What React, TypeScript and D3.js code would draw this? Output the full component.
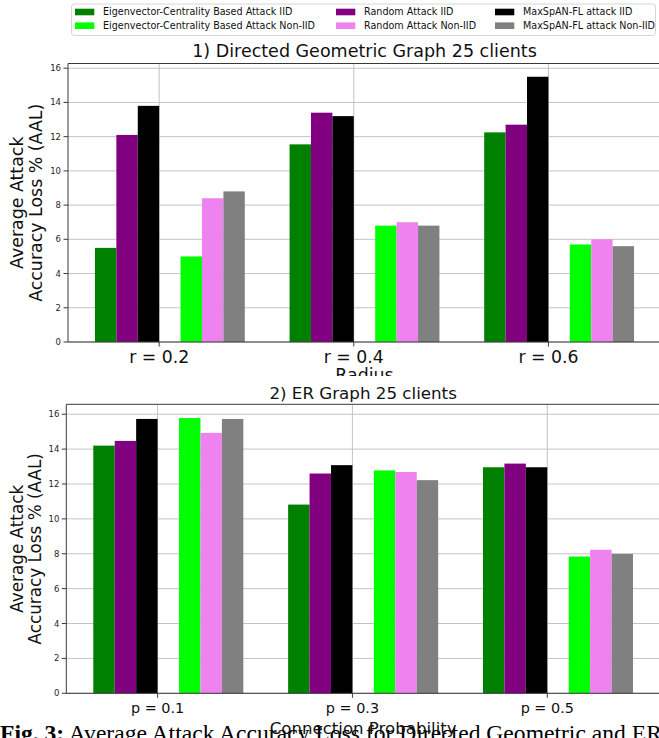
import { useEffect, useRef } from 'react';
import * as d3 from 'd3';

// legend order (column-major, like matplotlib's ncol=3)
const SERIES = [
  'Eigenvector-Centrality Based Attack IID',
  'Eigenvector-Centrality Based Attack Non-IID',
  'Random Attack IID',
  'Random Attack Non-IID',
  'MaxSpAN-FL attack IID',
  'MaxSpAN-FL attack Non-IID',
];
const COLORS = ['#008000', '#00ff00', '#800080', '#ee82ee', '#000000', '#808080'];

const GEO_CATS = ['r = 0.2', 'r = 0.4', 'r = 0.6'];
const GEO_VALUES = [
  [5.5, 11.55, 12.25], // eig IID
  [5.0, 6.8, 5.7], // eig non-IID
  [12.1, 13.4, 12.7], // random IID
  [8.4, 7.0, 6.0], // random non-IID
  [13.8, 13.2, 15.5], // maxspan IID
  [8.8, 6.8, 5.6], // maxspan non-IID
];

const ER_CATS = ['p = 0.1', 'p = 0.3', 'p = 0.5'];
const ER_VALUES = [
  [14.2, 10.82, 12.96],
  [15.78, 12.78, 7.84],
  [14.47, 12.6, 13.17],
  [14.93, 12.69, 8.23],
  [15.73, 13.08, 12.96],
  [15.73, 12.22, 7.99],
];

// bar offset (in bar widths, bar centre) per series, same order as SERIES
const OFFSETS = [-2.5, 1.5, -1.5, 2.5, -0.5, 3.5];
const BAR_W = 0.11;
const FONT = "'DejaVu Sans', sans-serif";

type Panel = {
  cats: string[];
  values: number[][];
  left: number; right: number; top: number; bottom: number;
  title: string; titleSize: number; titleY: number;
  xlabel: string; xlabelSize: number; xlabelY: number;
  tickSize: number; tickY: number;
  ylabelSize: number; ylabelX: [number, number];
  clipBottom: number;
  id: string;
};

function drawPanel(svg: d3.Selection<SVGSVGElement, unknown, null, undefined>, p: Panel) {
  svg.append('clipPath').attr('id', p.id).append('rect')
    .attr('x', 0).attr('y', p.top - 40).attr('width', 659).attr('height', p.clipBottom - (p.top - 40));
  const g = svg.append('g').attr('clip-path', `url(#${p.id})`);

  const lo = -3 * BAR_W, hi = p.cats.length - 1 + 4 * BAR_W;
  const m = (hi - lo) * 0.05;
  const x = d3.scaleLinear().domain([lo - m, hi + m]).range([p.left, p.right]);
  const ymax = d3.max(p.values.flat())! * 1.05;
  const y = d3.scaleLinear().domain([0, ymax]).range([p.bottom, p.top]);
  const yTicks = d3.range(0, ymax, 2);

  // grid
  g.selectAll('.hg').data(yTicks).join('line')
    .attr('x1', p.left).attr('x2', p.right)
    .attr('y1', (d) => y(d)).attr('y2', (d) => y(d))
    .attr('stroke', '#c4c4c4').attr('stroke-width', 1);
  g.selectAll('.vg').data(p.cats).join('line')
    .attr('x1', (_, i) => x(i)).attr('x2', (_, i) => x(i))
    .attr('y1', p.top).attr('y2', p.bottom)
    .attr('stroke', '#c4c4c4').attr('stroke-width', 1);

  // bars
  p.values.forEach((vals, s) => {
    g.append('g').selectAll('rect').data(vals).join('rect')
      .attr('x', (_, i) => x(i + (OFFSETS[s] - 0.5) * BAR_W))
      .attr('width', x(BAR_W) - x(0))
      .attr('y', (d) => y(d))
      .attr('height', (d) => y(0) - y(d))
      .attr('fill', COLORS[s]);
  });

  // spines
  g.append('path')
    .attr('d', `M${p.right},${p.top}H${p.left}V${p.bottom}H${p.right}`)
    .attr('fill', 'none').attr('stroke', '#3a3a3a').attr('stroke-width', 1);

  // y ticks
  yTicks.forEach((t) => {
    g.append('line').attr('x1', p.left - 4.5).attr('x2', p.left).attr('y1', y(t)).attr('y2', y(t))
      .attr('stroke', '#3a3a3a');
    g.append('text').attr('x', p.left - 7).attr('y', y(t) + 3).attr('text-anchor', 'end')
      .attr('font-size', 8.5).attr('font-family', FONT).attr('fill', '#262626').text(t);
  });

  // x ticks
  p.cats.forEach((c, i) => {
    g.append('line').attr('x1', x(i)).attr('x2', x(i)).attr('y1', p.bottom).attr('y2', p.bottom + 4.5)
      .attr('stroke', '#3a3a3a');
    g.append('text').attr('x', x(i)).attr('y', p.tickY).attr('text-anchor', 'middle')
      .attr('font-size', p.tickSize).attr('font-family', FONT).attr('fill', '#111').text(c);
  });

  const cx = (p.left + p.right) / 2;
  g.append('text').attr('x', cx).attr('y', p.xlabelY).attr('text-anchor', 'middle')
    .attr('font-size', p.xlabelSize).attr('font-family', FONT).attr('fill', '#111').text(p.xlabel);
  g.append('text').attr('x', cx).attr('y', p.titleY).attr('text-anchor', 'middle')
    .attr('font-size', p.titleSize).attr('font-family', FONT).attr('fill', '#111').text(p.title);

  const cy = (p.top + p.bottom) / 2;
  ['Average Attack', 'Accuracy Loss % (AAL)'].forEach((line, i) => {
    g.append('text').attr('transform', `translate(${p.ylabelX[i]},${cy}) rotate(-90)`)
      .attr('text-anchor', 'middle').attr('font-size', p.ylabelSize).attr('font-family', FONT)
      .attr('fill', '#111').text(line);
  });
}

export default function App() {
  const svgRef = useRef<SVGSVGElement>(null);

  useEffect(() => {
    const el = svgRef.current;
    if (!el) return;
    const svg = d3.select(el);
    svg.selectAll('*').remove();

    svg.append('rect').attr('width', 659).attr('height', 738).attr('fill', '#fff');

    // caption (page text under the figure), drawn first so the axis label sits over it
    const cap = svg.append('text').attr('x', 0).attr('y', 741)
      .attr('font-family', "'Liberation Serif', 'Times New Roman', serif").attr('font-size', 23.6).attr('fill', '#000');
    cap.append('tspan').attr('font-weight', 'bold').text('Fig. 3:');
    cap.append('tspan').text(' Average Attack Accuracy Loss for Directed Geometric and ER');

    drawPanel(svg, {
      cats: GEO_CATS, values: GEO_VALUES,
      left: 68, right: 661, top: 63.5, bottom: 342,
      title: '1) Directed Geometric Graph 25 clients', titleSize: 17.5, titleY: 56.7,
      xlabel: 'Radius', xlabelSize: 17.4, xlabelY: 381,
      tickSize: 17.3, tickY: 362.5,
      ylabelSize: 17.4, ylabelX: [22.7, 41.5],
      clipBottom: 376, id: 'clip-geo',
    });

    drawPanel(svg, {
      cats: ER_CATS, values: ER_VALUES,
      left: 66.3, right: 660, top: 404.3, bottom: 693.3,
      title: '2) ER Graph 25 clients', titleSize: 16.7, titleY: 398.5,
      xlabel: 'Connection Probability', xlabelSize: 16.6, xlabelY: 733.5,
      tickSize: 14.4, tickY: 713,
      ylabelSize: 16.8, ylabelX: [22.5, 40.5],
      clipBottom: 738, id: 'clip-er',
    });

    // legend
    const lg = svg.append('g');
    lg.append('rect').attr('x', 71.5).attr('y', 4).attr('width', 584).attr('height', 31.5)
      .attr('rx', 3).attr('fill', '#fff').attr('fill-opacity', 0.8)
      .attr('stroke', '#d6d6d6').attr('stroke-width', 1);
    const colX = [75, 336, 495];
    const textX = [103, 364, 523];
    const rowY = [12, 25.7];
    SERIES.forEach((name, i) => {
      const c = Math.floor(i / 2), r = i % 2;
      lg.append('rect').attr('x', colX[c]).attr('y', rowY[r] - 3.3).attr('width', 19.3).attr('height', 6.6)
        .attr('fill', COLORS[i]);
      lg.append('text').attr('x', textX[c]).attr('y', rowY[r] + 3.4)
        .attr('font-size', 9.6).attr('font-family', FONT).attr('fill', '#111').text(name);
    });
  }, []);

  return (
    <svg
      ref={svgRef}
      width={659}
      height={738}
      style={{ position: 'absolute', left: 0, top: 0, display: 'block' }}
    />
  );
}
